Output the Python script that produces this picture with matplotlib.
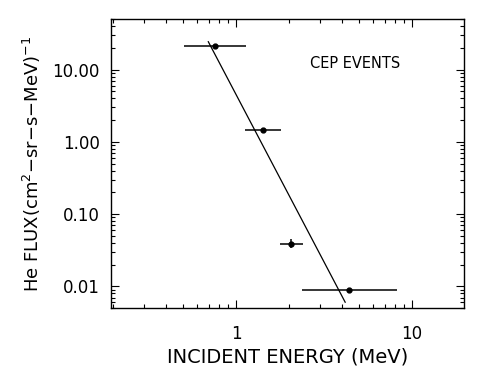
import matplotlib
matplotlib.use('Agg')
import matplotlib.pyplot as plt
from matplotlib.ticker import LogLocator, NullFormatter, FixedLocator, FixedFormatter

# Mierzone punkty widma He (energia w MeV, strumien)
energy = [0.76, 1.42, 2.06, 4.40]
flux = [20.9, 1.48, 0.039, 0.0088]
energy_lo = [0.506, 1.125, 1.78, 2.38]
energy_hi = [1.135, 1.80, 2.39, 8.2]
flux_lo = [20.9, 1.48, 0.0337, 0.0088]
flux_hi = [20.9, 1.48, 0.045, 0.0088]

# Dopasowanie potegowe (punkty koncowe linii)
fit_energy = [0.695, 4.17]
fit_flux = [24.3, 0.00605]

x_ticks = [1, 10]
x_labels = ["1", "10"]
y_ticks = [0.01, 0.1, 1, 10]
y_labels = ["0.01", "0.10", "1.00", "10.00"]

fig = plt.figure(figsize=(4.84, 3.74), dpi=100)
ax = fig.add_axes([0.229, 0.176, 0.730, 0.773])

xerr = [[e - lo for e, lo in zip(energy, energy_lo)],
        [hi - e for e, hi in zip(energy, energy_hi)]]
yerr = [[f - lo for f, lo in zip(flux, flux_lo)],
        [hi - f for f, hi in zip(flux, flux_hi)]]
ax.errorbar(energy, flux, xerr=xerr, yerr=yerr, fmt='o', color='black',
            markersize=3.5, elinewidth=1.1, capsize=0)
ax.plot(fit_energy, fit_flux, color='black', linewidth=0.9)

ax.set_xscale('log')
ax.set_yscale('log')
ax.set_xlim(0.194, 19.8)
ax.set_ylim(0.005, 50)

ax.xaxis.set_major_locator(FixedLocator(x_ticks))
ax.xaxis.set_major_formatter(FixedFormatter(x_labels))
ax.yaxis.set_major_locator(FixedLocator(y_ticks))
ax.yaxis.set_major_formatter(FixedFormatter(y_labels))
ax.xaxis.set_minor_locator(LogLocator(base=10, subs=range(2, 10), numticks=20))
ax.yaxis.set_minor_locator(LogLocator(base=10, subs=range(2, 10), numticks=20))
ax.xaxis.set_minor_formatter(NullFormatter())
ax.yaxis.set_minor_formatter(NullFormatter())

ax.tick_params(which='both', direction='in', top=True, right=True,
               colors='black', width=0.8)
ax.tick_params(which='major', length=5.5, labelsize=12)
ax.tick_params(axis='x', which='major', pad=12)
ax.tick_params(axis='y', which='major', pad=8)
ax.tick_params(which='minor', length=2.8)
for sp in ax.spines.values():
    sp.set_linewidth(1.0)
    sp.set_color('black')

ax.text(2.62, 12, "CEP EVENTS", fontsize=10.5, color='black', va='center')

ax.set_xlabel("INCIDENT ENERGY (MeV)", fontsize=14, labelpad=3)
ax.set_ylabel(r"He FLUX(cm$^2$$-$sr$-$s$-$MeV)$^{-1}$", fontsize=13, labelpad=7)

fig.savefig("out.png", dpi=100, facecolor='white')
plt.close(fig)
